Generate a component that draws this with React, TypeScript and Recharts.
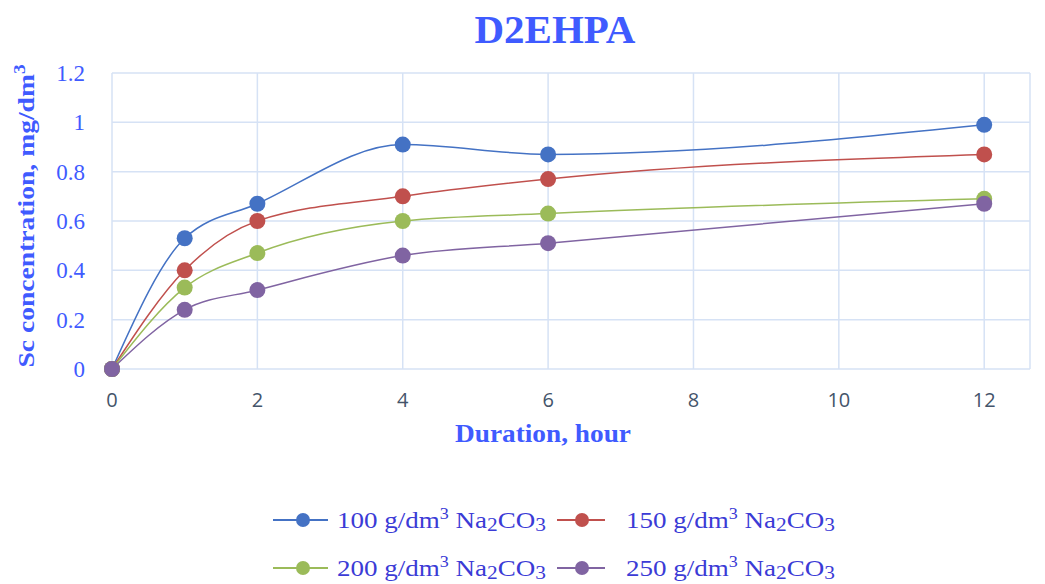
import React from 'react';
import { LineChart, Line, XAxis, YAxis, CartesianGrid, Label } from 'recharts';

const hours = [0, 1, 2, 4, 6, 12];
const na100 = [0, 0.53, 0.67, 0.91, 0.87, 0.99];
const na150 = [0, 0.40, 0.60, 0.70, 0.77, 0.87];
const na200 = [0, 0.33, 0.47, 0.60, 0.63, 0.69];
const na250 = [0, 0.24, 0.32, 0.46, 0.51, 0.67];
const xTicks = [0, 2, 4, 6, 8, 10, 12];
const yTicks = [0, 0.2, 0.4, 0.6, 0.8, 1, 1.2];

const series = [
    { key: 'na100', conc: '100', color: '#4472C4' },
    { key: 'na150', conc: '150', color: '#C0504D' },
    { key: 'na200', conc: '200', color: '#9BBB59' },
    { key: 'na250', conc: '250', color: '#8064A2' },
];

const data = hours.map((h, i) => ({
    hour: h,
    na100: na100[i],
    na150: na150[i],
    na200: na200[i],
    na250: na250[i],
}));

const BLUE = '#3F5BFF';
const SERIF = '"Liberation Serif", "DejaVu Serif", serif';

// legend slots: [line start, line end, dot x, text x]
const slots = [
    [273, 328, 303, 337],
    [557, 605, 582, 626],
];

function ChartLegend() {
    return (
        <svg width={1045} height={584} style={{ position: 'absolute', left: 0, top: 0, pointerEvents: 'none' }}>
            {series.map((s, i) => {
                const [x1, x2, dx, tx] = slots[i % 2];
                const cy = i < 2 ? 520 : 568;
                return (
                    <g key={s.key}>
                        <line x1={x1} y1={cy} x2={x2} y2={cy} stroke={s.color} strokeWidth={2} />
                        <circle cx={dx} cy={cy} r={7} fill={s.color} />
                        <text
                            x={tx}
                            y={cy + 8}
                            fill="#3B3BD6"
                            fontFamily={SERIF}
                            fontSize={24}
                            textLength={209}
                            lengthAdjust="spacingAndGlyphs"
                        >
                            {s.conc} g/dm<tspan dy={-9} fontSize={16}>3</tspan>
                            <tspan dy={9}> Na</tspan>
                            <tspan dy={3} fontSize={19}>2</tspan>
                            <tspan dy={-3}>CO</tspan>
                            <tspan dy={3} fontSize={19}>3</tspan>
                        </text>
                    </g>
                );
            })}
        </svg>
    );
}

function YTitle({ viewBox }: any) {
    const cx = 29;
    const cy = viewBox.y + viewBox.height / 2 - 5;
    return (
        <text
            x={cx}
            y={cy}
            transform={`rotate(-90, ${cx}, ${cy})`}
            textAnchor="middle"
            dominantBaseline="middle"
            fill={BLUE}
            fontFamily={SERIF}
            fontWeight="bold"
            fontSize={23}
            textLength={303}
            lengthAdjust="spacingAndGlyphs"
        >
            Sc concentration, mg/dm<tspan dy={-8} fontSize={16}>3</tspan>
        </text>
    );
}

function XTitle({ viewBox }: any) {
    return (
        <text
            x={543}
            y={viewBox.y + viewBox.height + 13}
            textAnchor="middle"
            fill={BLUE}
            fontFamily={SERIF}
            fontWeight="bold"
            fontSize={25}
            textLength={176}
            lengthAdjust="spacingAndGlyphs"
        >
            Duration, hour
        </text>
    );
}

export default function App() {
    return (
        <div style={{ position: 'absolute', left: 0, top: 0, width: 1045, height: 584, background: '#fff' }}>
            <div
                style={{
                    position: 'absolute', top: 4, left: 0, width: 1110, textAlign: 'center',
                    fontFamily: SERIF, fontWeight: 'bold', fontSize: 41, color: BLUE, lineHeight: '50px',
                }}
            >
                D2EHPA
            </div>
            <LineChart width={1045} height={584} data={data} margin={{ top: 73, right: 15, left: 62, bottom: 155 }}>
                <CartesianGrid stroke="#D6E2F5" strokeWidth={1.5} />
                <XAxis
                    type="number"
                    dataKey="hour"
                    domain={[0, 12.63]}
                    ticks={xTicks}
                    axisLine={false}
                    tickLine={false}
                    tick={{ fill: '#44546A', fontSize: 20, fontFamily: '"Open Sans", sans-serif' }}
                    tickMargin={18}
                    height={60}
                >
                    <Label content={<XTitle />} />
                </XAxis>
                <YAxis
                    domain={[0, 1.2]}
                    ticks={yTicks}
                    axisLine={false}
                    tickLine={false}
                    width={50}
                    tick={{ fill: BLUE, fontSize: 23, fontFamily: SERIF }}
                    tickMargin={21}
                >
                    <Label content={<YTitle />} />
                </YAxis>
                {series.map((s) => (
                    <Line
                        key={s.key}
                        type="monotone"
                        dataKey={s.key}
                        stroke={s.color}
                        strokeWidth={1.5}
                        dot={{ r: 8, fill: s.color, stroke: s.color, strokeWidth: 0 }}
                        isAnimationActive={false}
                    />
                ))}
            </LineChart>
            <ChartLegend />
        </div>
    );
}
